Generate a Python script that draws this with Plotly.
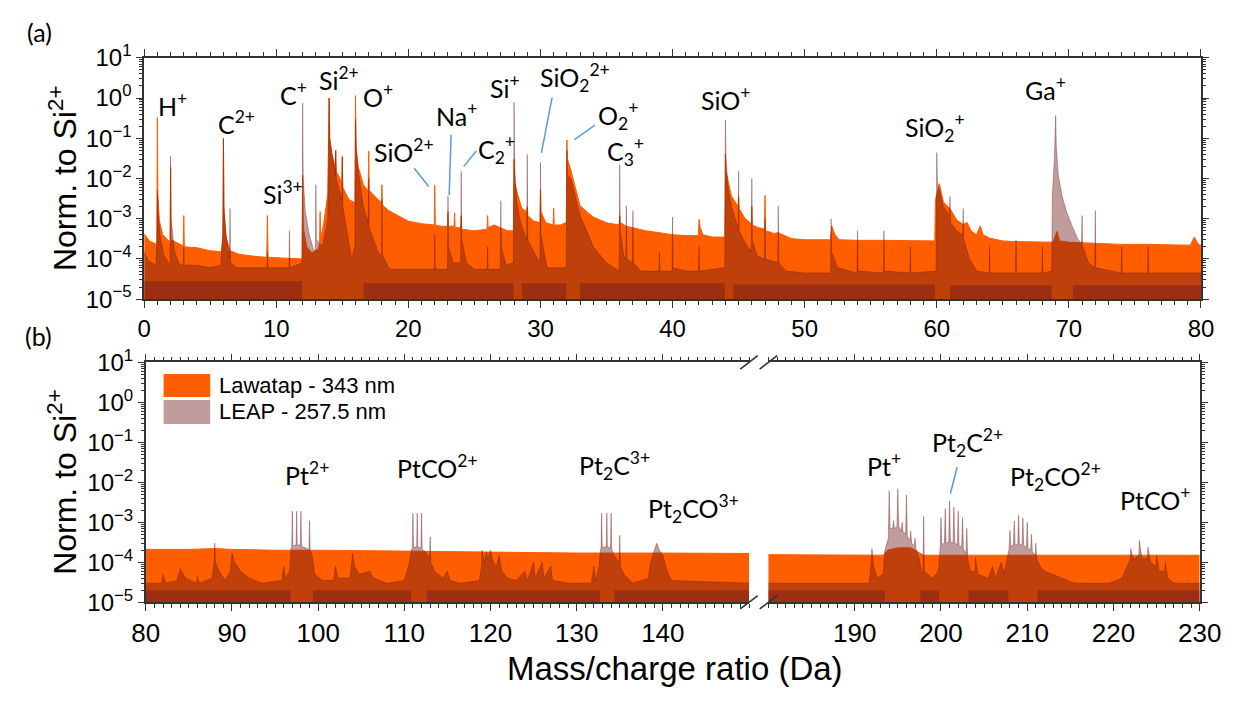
import plotly.graph_objects as go

W, H = 1256, 704

# ---------------- panel (a): 0-80 Da ----------------
mz_a_lawatap = [
    0.0, 0.4, 0.96, 1.0, 1.04, 1.15, 1.4, 1.96, 2.0, 2.04, 2.96, 3.0, 3.04, 4.0, 5.0, 5.85,
    5.96, 6.0, 6.04, 6.2, 6.5, 7.2, 8.5, 9.28, 9.33, 9.38, 10.5, 11.95, 12.0, 12.05, 12.3,
    12.7, 13.2, 13.28, 13.32, 13.36, 13.6, 13.9, 14.0, 14.05, 14.2, 14.45, 14.5, 14.55, 14.96,
    15.0, 15.04, 15.5, 15.95, 16.0, 16.05, 16.2, 16.6, 16.96, 17.0, 17.04, 17.5, 17.96, 18.0,
    18.04, 18.5, 19.0, 19.5, 20.0, 21.0, 21.96, 22.0, 22.04, 22.5, 22.96, 23.0, 23.04, 23.46,
    23.5, 23.54, 23.96, 24.0, 24.04, 25.0, 25.96, 26.0, 26.04, 26.5, 27.0, 27.5, 27.95, 28.0,
    28.05, 28.3, 28.6, 28.96, 29.0, 29.04, 29.5, 29.96, 30.0, 30.04, 30.4, 30.96, 31.0, 31.04,
    31.5, 31.95, 32.0, 32.05, 32.3, 32.6, 33.0, 33.5, 34.0, 35.0, 35.96, 36.0, 36.04, 36.5,
    37.0, 38.0, 39.0, 40.0, 41.0, 41.96, 42.0, 42.1, 42.3, 43.0, 43.95, 44.0, 44.05, 44.2,
    44.45, 44.96, 45.0, 45.04, 45.5, 45.96, 46.0, 46.04, 46.5, 46.96, 47.0, 47.04, 47.7, 48.0,
    49.0, 50.0, 51.0, 51.95, 52.05, 52.3, 52.6, 54.0, 56.0, 58.0, 59.8, 59.85, 59.9, 60.2,
    60.5, 61.0, 61.5, 62.0, 62.3, 62.6, 63.0, 63.3, 63.5, 64.0, 65.0, 66.0, 68.0, 68.8, 69.1,
    69.3, 70.0, 72.0, 74.0, 76.0, 78.0, 79.2, 79.5, 79.8, 80.0,
]
norm_a_lawatap = [
    4.2e-4, 2.8e-4, 2.3e-4, 0.33, 4e-3, 9e-4, 4e-4, 2.6e-4, 0.019, 3e-4, 2.1e-4, 1.2e-3, 2e-4, 1.9e-4, 1.6e-4, 1.5e-4,
    4e-4, 0.1, 1.5e-3, 3.5e-4, 1.6e-4, 1.3e-4, 1.15e-4, 1.1e-4, 1.2e-3, 1.1e-4, 1.05e-4, 1e-4, 0.012, 6e-4, 2e-4,
    1.4e-4, 1.8e-4, 2.5e-4, 1.5e-3, 3e-4, 8e-4, 4e-3, 1.0, 0.1, 0.04, 0.02, 0.05, 0.015, 8e-3,
    0.035, 6e-3, 3e-3, 2.5e-3, 1.15, 0.06, 0.02, 7e-3, 5e-3, 0.048, 5e-3, 3.5e-3, 2.5e-3, 7e-3,
    2.2e-3, 1.6e-3, 1.3e-3, 1.05e-3, 8.7e-4, 7.5e-4, 7e-4, 6.8e-3, 7e-4, 6.5e-4, 6.5e-4, 1.5e-3, 6.5e-4, 6.5e-4,
    1.4e-3, 6e-4, 6e-4, 1.2e-3, 5.5e-4, 5e-4, 5.5e-4, 1.2e-3, 6e-4, 7e-4, 6e-4, 5e-4, 5e-4, 0.03,
    8e-3, 3.7e-3, 1.8e-3, 1.5e-3, 2e-3, 1.2e-3, 8.7e-4, 8e-4, 5.3e-3, 1.5e-3, 8e-4, 7e-4, 1.8e-3, 7e-4,
    7e-4, 8e-4, 0.091, 0.03, 0.016, 6.5e-3, 2.1e-3, 1.5e-3, 1.1e-3, 7.9e-4, 7e-4, 1.2e-3, 8e-4, 6.5e-4,
    6e-4, 5e-4, 4.5e-4, 4e-4, 3.8e-4, 3.8e-4, 9.6e-4, 6e-4, 4e-4, 3.5e-4, 3.5e-4, 0.04, 0.015, 9e-3,
    3.7e-3, 2e-3, 3.5e-3, 1.8e-3, 1e-3, 7.5e-4, 2e-3, 7e-4, 6e-4, 5.5e-4, 3.8e-3, 5e-4, 4.3e-4, 4.5e-4,
    3.2e-4, 3e-4, 3e-4, 3e-4, 6.6e-4, 4e-4, 3e-4, 2.9e-4, 2.9e-4, 2.8e-4, 2.8e-4, 3e-4, 3e-3, 7.4e-3,
    2.6e-3, 1.8e-3, 9.4e-4, 7.2e-4, 8e-4, 5e-4, 4e-4, 6.6e-4, 4e-4, 3.3e-4, 2.8e-4, 2.7e-4, 2.7e-4, 2.6e-4, 4.8e-4,
    2.8e-4, 2.6e-4, 2.4e-4, 2.3e-4, 2.3e-4, 2.2e-4, 2.2e-4, 3.5e-4, 2.3e-4, 2.2e-4,
]

mz_a_leap = [
    0.0, 0.3, 0.9, 0.96, 1.0, 1.05, 1.2, 1.5, 1.96, 2.0, 2.04, 2.3, 2.7, 2.96, 3.0, 3.04, 4.0,
    5.0, 5.8, 5.95, 6.0, 6.05, 6.2, 6.46, 6.5, 6.54, 7.0, 8.0, 9.28, 9.33, 9.38, 10.96, 11.0,
    11.04, 11.95, 12.0, 12.04, 12.2, 12.5, 12.8, 12.96, 13.0, 13.04, 13.5, 13.9, 14.0, 14.05,
    14.3, 14.46, 14.5, 14.54, 14.96, 15.0, 15.04, 15.7, 15.95, 16.0, 16.05, 16.2, 16.6, 16.96,
    17.0, 17.04, 17.7, 17.96, 18.0, 18.04, 18.6, 20.0, 21.96, 22.0, 22.04, 22.96, 23.0, 23.04,
    23.4, 23.96, 24.0, 24.04, 24.4, 25.0, 25.96, 26.0, 26.04, 26.96, 27.0, 27.04, 27.4, 27.95,
    28.0, 28.05, 28.2, 28.5, 28.96, 29.0, 29.04, 29.5, 29.96, 30.0, 30.04, 30.5, 31.95, 32.0,
    32.05, 32.3, 32.6, 33.0, 33.5, 34.0, 35.0, 35.96, 36.0, 36.04, 36.3, 36.46, 36.5, 36.54,
    36.96, 37.0, 37.04, 37.6, 38.96, 39.0, 39.04, 39.96, 40.0, 40.04, 41.0, 41.96, 42.0, 42.04,
    43.95, 44.0, 44.05, 44.2, 44.45, 44.96, 45.0, 45.04, 45.5, 45.96, 46.0, 46.04, 46.4, 46.96,
    47.0, 47.04, 47.96, 48.0, 48.04, 48.6, 50.0, 51.96, 52.0, 52.04, 52.5, 53.96, 54.0, 54.04,
    55.96, 56.0, 56.04, 57.96, 58.0, 58.04, 59.95, 60.0, 60.05, 60.2, 60.5, 60.96, 61.0, 61.04,
    61.5, 61.96, 62.0, 62.04, 62.5, 63.0, 63.96, 64.0, 64.04, 65.96, 66.0, 66.04, 67.96, 68.0,
    68.04, 68.7, 68.75, 68.9, 69.0, 69.05, 69.2, 69.5, 69.85, 70.3, 70.7, 70.96, 71.0, 71.04,
    71.5, 71.96, 72.0, 72.04, 73.96, 74.0, 74.04, 75.96, 76.0, 76.04, 78.0, 80.0,
]
norm_a_leap = [
    1.5e-4, 9e-5, 7e-5, 3e-4, 5e-3, 1.5e-3, 4e-4, 1.2e-4, 7e-5, 0.036, 1e-3, 1.5e-4, 7e-5, 7e-5, 2e-4, 7e-5, 7e-5,
    6e-5, 7e-5, 4e-4, 0.1, 2e-3, 4e-4, 1e-4, 1.8e-3, 8e-5, 6e-5, 6e-5, 6e-5, 1.5e-4, 6e-5, 6e-5, 5e-4,
    6e-5, 8e-5, 0.75, 0.01, 1.5e-3, 4e-4, 1.8e-4, 1.5e-4, 7e-3, 3e-4, 2e-4, 1e-3, 1.0, 0.1,
    0.03, 0.012, 0.05, 0.01, 3e-3, 0.035, 2e-3, 1e-4, 2e-4, 0.3, 0.05, 0.016, 2e-3, 8e-4,
    0.01, 6e-4, 1.5e-4, 1.2e-4, 3e-3, 1.2e-4, 5.5e-5, 5.5e-5, 5.5e-5, 4e-4, 5.5e-5, 5.5e-5, 3.7e-3, 2e-4,
    8e-5, 8e-5, 0.015, 3e-4, 8e-5, 5.5e-5, 5.5e-5, 2e-4, 5.5e-5, 5.5e-5, 2.8e-3, 2e-4, 7e-5, 8e-5,
    0.78, 0.02, 2.5e-3, 8e-4, 3e-4, 0.04, 3e-4, 1.5e-4, 8e-5, 0.025, 4e-4, 6e-5, 6e-5, 0.05,
    0.012, 0.01, 4e-3, 1.2e-3, 5e-4, 2e-4, 8e-5, 5e-5, 0.022, 5e-4, 1.2e-4, 1e-4, 2.1e-3, 1e-4,
    8e-5, 1.6e-3, 8e-5, 5e-5, 5e-5, 1.5e-4, 5e-5, 5e-5, 1.1e-3, 6e-5, 5e-5, 5e-5, 2e-4, 5e-5,
    6e-5, 0.29, 0.03, 6e-3, 2e-3, 6e-4, 0.015, 5e-4, 2.5e-4, 1.5e-4, 0.01, 3e-4, 1.2e-4, 1e-4,
    1e-3, 1e-4, 8e-5, 2.1e-3, 8e-5, 5e-5, 4.5e-5, 4.5e-5, 1e-3, 1.5e-4, 6e-5, 4.5e-5, 5e-4, 5e-5,
    4.5e-5, 5e-4, 5e-5, 4.5e-5, 2e-4, 4.5e-5, 5e-5, 0.044, 8e-3, 5e-3, 2e-3, 1.2e-3, 3.6e-3, 8e-4,
    5e-4, 4e-4, 1.8e-3, 3e-4, 1e-4, 5e-5, 4.5e-5, 2e-4, 4.5e-5, 4.5e-5, 3e-4, 4.5e-5, 4.5e-5, 2e-4,
    4.5e-5, 5e-5, 4e-3, 0.03, 0.37, 0.06, 0.012, 3.5e-3, 1.4e-3, 6e-4, 3e-4, 2.5e-4, 1.2e-3, 2e-4,
    8e-5, 6e-5, 1.6e-3, 6e-5, 4.5e-5, 2e-4, 4.5e-5, 4.5e-5, 2e-4, 4.5e-5, 4.5e-5, 4.5e-5,
]

# single-count floor of the LEAP spectrum, absent where the LEAP signal is continuous
mz_a_leap_floor = [0.0, 11.95, 16.6, 27.95, 28.6, 31.95, 33.0, 43.95, 44.6, 59.85, 61.0, 68.7, 70.3, 80.0]
norm_a_leap_floor = [2.8e-5, 1e-7, 2.5e-5, 1e-7, 2.5e-5, 1e-7, 2.5e-5, 1e-7, 2.3e-5, 1e-7, 2.2e-5, 1e-7, 2.2e-5, 2.2e-5]

# ---------------- panel (b): 80-150 and 180-230 Da ----------------
mz_b_lawatap = [80.0, 85.0, 88.0, 90.0, 95.0, 100.0, 110.0, 120.0, 130.0, 140.0, 150.0,
                180.0, 190.0, 193.3, 193.8, 195.0, 196.5, 197.5, 198.0, 210.0, 220.0, 230.0]
norm_b_lawatap = [2.1e-4, 2.1e-4, 2.2e-4, 2.1e-4, 2e-4, 2e-4, 1.9e-4, 1.8e-4, 1.7e-4, 1.7e-4, 1.65e-4,
                  1.55e-4, 1.5e-4, 1.5e-4, 2e-4, 2.3e-4, 2.3e-4, 1.7e-4, 1.5e-4, 1.5e-4, 1.5e-4, 1.5e-4]

mz_b_leap = [
    80.0, 81.8, 82.0, 82.3, 83.6, 84.0, 84.6, 85.9, 86.0, 86.2, 87.7, 87.94, 88.0, 88.08, 88.5,
    89.2, 89.8, 90.0, 90.3, 91.0, 92.0, 93.5, 95.8, 96.0, 96.2, 96.7, 96.85, 96.93, 97.0, 97.07,
    97.43, 97.5, 97.57, 97.93, 98.0, 98.07, 98.5, 98.93, 99.0, 99.07, 99.3, 99.6, 100.5, 101.8,
    102.0, 102.3, 103.7, 104.0, 104.2, 104.8, 106.0, 106.4, 108.0, 110.0, 110.6, 110.8, 110.93,
    111.0, 111.07, 111.43, 111.5, 111.57, 111.93, 112.0, 112.07, 112.5, 112.93, 113.0, 113.07,
    113.5, 114.5, 115.0, 115.3, 116.5, 118.7, 118.97, 119.0, 119.3, 119.5, 119.7, 120.0, 120.3,
    120.7, 121.0, 121.3, 122.0, 123.0, 124.0, 124.3, 125.0, 125.2, 126.0, 126.2, 127.0, 127.2,
    129.0, 131.7, 132.0, 132.2, 132.6, 132.75, 132.83, 132.9, 132.97, 133.43, 133.5, 133.57,
    133.93, 134.0, 134.07, 134.5, 134.93, 135.0, 135.07, 135.5, 136.5, 138.3, 138.6, 139.0,
    139.3, 139.6, 140.0, 140.5, 141.0, 150.0,
    180.0, 183.0, 188.0, 191.7, 191.9, 192.0, 192.2, 192.6, 193.3, 193.5, 193.9, 194.0, 194.1,
    194.4, 194.5, 194.6, 194.9, 195.0, 195.1, 195.4, 195.5, 195.6, 195.9, 196.0, 196.1,
    196.4, 196.5, 196.6, 196.9, 197.0, 197.1, 197.5, 197.8, 197.92, 198.0, 198.08, 198.5,
    199.0, 199.7, 199.85, 199.92, 200.0, 200.1, 200.4, 200.5, 200.6, 200.9, 201.0, 201.1,
    201.4, 201.5, 201.6, 201.9, 202.0, 202.1, 202.4, 202.5, 202.6, 202.9, 203.0, 203.1,
    203.4, 203.94, 204.0, 204.3, 205.5, 206.0, 206.3, 207.0, 207.3, 207.7, 207.9, 208.0, 208.1,
    208.4, 208.5, 208.6, 208.9, 209.0, 209.1, 209.4, 209.5, 209.6, 209.9, 210.0, 210.1,
    210.4, 210.5, 210.6, 210.9, 211.0, 211.1, 211.5, 212.0, 213.0, 214.0, 215.5, 219.5,
    221.0, 221.6, 221.94, 222.0, 222.3, 222.94, 223.0, 223.3, 223.94, 224.0, 224.3, 224.94,
    225.0, 225.3, 225.94, 226.0, 226.3, 227.0, 230.0,
]
norm_b_leap = [
    3e-5, 3e-5, 5e-5, 3e-5, 3.5e-5, 7e-5, 4e-5, 3e-5, 4.5e-5, 3e-5, 4e-5, 1e-4, 3e-4, 1e-4, 6e-5,
    3.5e-5, 6e-5, 1.7e-4, 1e-4, 6e-5, 4e-5, 3e-5, 3.5e-5, 8e-5, 4e-5, 6e-5, 2.2e-4, 2.5e-4, 1.9e-3, 2.6e-4,
    2.7e-4, 1.9e-3, 2.7e-4, 2.7e-4, 1.9e-3, 2.5e-4, 2.3e-4, 2.1e-4, 1.1e-3, 2e-4, 1.5e-4, 5e-5, 3.5e-5, 3.5e-5,
    8e-5, 4e-5, 4e-5, 1.7e-4, 8e-5, 5e-5, 6e-5, 4e-5, 3e-5, 3.5e-5, 1e-4, 2e-4, 2.3e-4,
    1.7e-3, 2.4e-4, 2.4e-4, 1.7e-3, 2.4e-4, 2.3e-4, 1.7e-3, 2.1e-4, 1.8e-4, 1.2e-4, 4.3e-4, 1e-4,
    6e-5, 4e-5, 6e-5, 3.5e-5, 3e-5, 3.5e-5, 8e-5, 2e-4, 1e-4, 1.8e-4, 1.2e-4, 2e-4, 1e-4,
    8e-5, 1.5e-4, 6e-5, 4e-5, 3.5e-5, 6e-5, 3.5e-5, 1e-4, 4e-5, 1e-4, 4e-5, 8e-5, 3.5e-5,
    3e-5, 3e-5, 8e-5, 3.5e-5, 8e-5, 2e-4, 2.3e-4, 1.7e-3, 2.4e-4, 2.4e-4, 1.7e-3, 2.4e-4,
    2.3e-4, 1.7e-3, 2.1e-4, 1.3e-4, 1e-4, 4.7e-4, 8e-5, 5e-5, 3e-5, 4e-5, 1e-4, 2e-4,
    3e-4, 2e-4, 1.5e-4, 6e-5, 3.5e-5, 3e-5,
    3e-5, 3e-5, 3e-5, 3e-5, 1e-4, 2.2e-4, 8e-5, 4e-5, 5e-5, 2e-4, 4e-4, 6.2e-3, 7e-4,
    7e-4, 1.1e-3, 7e-4, 8e-4, 6.9e-3, 8e-4, 6e-4, 1e-3, 6e-4, 5e-4, 4.8e-3, 4.5e-4,
    3.5e-4, 6e-4, 3e-4, 2.6e-4, 4e-4, 2.2e-4, 1.2e-4, 5e-5, 6e-5, 1.4e-3, 6e-5, 5e-5,
    4e-5, 6e-5, 2e-4, 2.6e-4, 1.3e-3, 2.8e-4, 3e-4, 2.2e-3, 3e-4, 3.2e-4, 3.4e-3, 3.2e-4,
    3e-4, 2.4e-3, 3e-4, 2.8e-4, 1.9e-3, 2.6e-4, 2.4e-4, 1.3e-3, 2.2e-4, 1.6e-4, 7e-4, 1.2e-4,
    6e-5, 6e-5, 1.3e-4, 5e-5, 4e-5, 8e-5, 4e-5, 1e-4, 5e-5, 1.5e-4, 2.2e-4, 6.2e-4, 2.5e-4,
    2.7e-4, 1.07e-3, 2.8e-4, 2.8e-4, 1.5e-3, 2.8e-4, 2.7e-4, 1.3e-3, 2.6e-4, 2.4e-4, 1e-3, 2.3e-4,
    2e-4, 5e-4, 1.8e-4, 1.5e-4, 3e-4, 1.2e-4, 8e-5, 6e-5, 5e-5, 4e-5, 3e-5, 3e-5,
    4e-5, 8e-5, 1.2e-4, 2.2e-4, 1.2e-4, 1.5e-4, 3.5e-4, 1.3e-4, 1.2e-4, 2.4e-4, 1e-4, 8e-5,
    1.5e-4, 6e-5, 6e-5, 1e-4, 4e-5, 3e-5, 3e-5,
]

mz_b_leap_floor = [80.0, 96.8, 99.4, 110.8, 112.6, 132.7, 134.4, 150.0,
                   180.0, 193.5, 197.6, 199.8, 203.2, 207.8, 211.2, 230.0]
norm_b_leap_floor = [2e-5, 1e-7, 2e-5, 1e-7, 2e-5, 1e-7, 2e-5, 2e-5,
                     2e-5, 1e-7, 2e-5, 1e-7, 2e-5, 1e-7, 2e-5, 2e-5]

# ---------------- ticks and labels ----------------
y_tickvals = [1e-5, 1e-4, 1e-3, 1e-2, 1e-1, 1e0, 1e1]
y_ticktext = ["10<sup>−5</sup>", "10<sup>−4</sup>", "10<sup>−3</sup>", "10<sup>−2</sup>",
              "10<sup>−1</sup>", "10<sup>0</sup>", "10<sup>1</sup>"]
x_ticks_a = [0, 10, 20, 30, 40, 50, 60, 70, 80]
x_ticks_b_low = [80, 90, 100, 110, 120, 130, 140]
x_ticks_b_high = [190, 200, 210, 220, 230]

series_names = ["Lawatap - 343 nm", "LEAP - 257.5 nm"]

ion_labels_a = ["H<sup>+</sup>", "C<sup>2+</sup>", "Si<sup>3+</sup>", "C<sup>+</sup>", "Si<sup>2+</sup>",
                "O<sup>+</sup>", "SiO<sup>2+</sup>", "Na<sup>+</sup>", "C<sub>2</sub><sup>+</sup>",
                "Si<sup>+</sup>", "SiO<sub>2</sub><sup>2+</sup>", "O<sub>2</sub><sup>+</sup>",
                "C<sub>3</sub><sup>+</sup>", "SiO<sup>+</sup>", "SiO<sub>2</sub><sup>+</sup>", "Ga<sup>+</sup>"]
ion_labels_b = ["Pt<sup>2+</sup>", "PtCO<sup>2+</sup>", "Pt<sub>2</sub>C<sup>3+</sup>",
                "Pt<sub>2</sub>CO<sup>3+</sup>", "Pt<sup>+</sup>", "Pt<sub>2</sub>C<sup>2+</sup>",
                "Pt<sub>2</sub>CO<sup>2+</sup>", "PtCO<sup>+</sup>"]

# ---------------- styling ----------------
ORANGE = "rgb(255,94,0)"
LEAP_FILL = "rgba(108,25,25,0.43)"
LEAP_LINE = "rgba(108,25,25,0.45)"
AXIS = "#333333"
TICK_FONT = "Liberation Sans, Arial, sans-serif"
LABEL_FONT = "Lato, Open Sans, sans-serif"
LEADER = "#5B9BD5"


def px(x):
    return x / W


def py(y):
    return 1 - y / H


fig = go.Figure()


def add_spectrum(x, y, color, line_color, width, xa, ya, shape="linear"):
    fig.add_trace(go.Scatter(
        x=x, y=y, mode="lines", fill="tozeroy", fillcolor=color,
        line=dict(color=line_color, width=width, shape=shape),
        xaxis=xa, yaxis=ya, showlegend=False, hoverinfo="skip"))


# panel (a)
add_spectrum(mz_a_lawatap, norm_a_lawatap, ORANGE, ORANGE, 1, "x", "y")
add_spectrum(mz_a_leap, norm_a_leap, LEAP_FILL, LEAP_LINE, 0.8, "x", "y")
add_spectrum(mz_a_leap_floor, norm_a_leap_floor, LEAP_FILL, "rgba(0,0,0,0)", 0, "x", "y", "hv")
# panel (b), both segments of the broken axis
for xa, ya in (("x2", "y2"), ("x3", "y3")):
    add_spectrum(mz_b_lawatap, norm_b_lawatap, ORANGE, ORANGE, 1, xa, ya)
    add_spectrum(mz_b_leap, norm_b_leap, LEAP_FILL, LEAP_LINE, 0.8, xa, ya)
    add_spectrum(mz_b_leap_floor, norm_b_leap_floor, LEAP_FILL, "rgba(0,0,0,0)", 0, xa, ya, "hv")

a_xdom = [px(134), px(1222)]
a_ydom = [py(294.7), py(42.7)]
b_ydom = [py(611.3), py(360.7)]
b_lo_dom = [px(135.7), px(756.7)]
b_hi_dom = [px(776.7), px(1220.7)]

common_x = dict(showline=True, linecolor=AXIS, linewidth=1.6, ticks="outside", ticklen=7,
                tickwidth=1.4, tickcolor=AXIS, showgrid=False, zeroline=False,
                minor=dict(dtick=1, ticks="outside", ticklen=4, tickwidth=1, tickcolor=AXIS, showgrid=False),
                tickmode="array")
common_y = dict(type="log", range=[-5, 1], showline=True, linecolor=AXIS, linewidth=1.6,
                ticks="outside", ticklen=6, tickwidth=1.4, tickcolor=AXIS, showgrid=False,
                zeroline=False, tickmode="array", tickvals=y_tickvals, ticktext=y_ticktext,
                tickfont=dict(family=TICK_FONT, size=24, color="black"),
                minor=dict(dtick="D1", ticks="outside", ticklen=3, tickwidth=1, tickcolor=AXIS, showgrid=False))

fig.update_layout(
    width=W, height=H, margin=dict(l=0, r=0, t=0, b=0),
    paper_bgcolor="white", plot_bgcolor="white", showlegend=False,
    xaxis=dict(domain=a_xdom, anchor="y", range=[0, 80], tickvals=x_ticks_a, mirror="ticks",
               tickfont=dict(family=TICK_FONT, size=24, color="black"), **common_x),
    yaxis=dict(domain=a_ydom, anchor="x", mirror="ticks", **common_y),
    xaxis2=dict(domain=b_lo_dom, anchor="y2", range=[80, 150], tickvals=x_ticks_b_low, mirror="ticks",
                tickfont=dict(family=TICK_FONT, size=26, color="black"), **common_x),
    yaxis2=dict(domain=b_ydom, anchor="x2", mirror=False, **common_y),
    xaxis3=dict(domain=b_hi_dom, anchor="y3", range=[180, 230], tickvals=x_ticks_b_high, mirror="ticks",
                tickfont=dict(family=TICK_FONT, size=26, color="black"), **common_x),
    yaxis3=dict(domain=b_ydom, anchor="x3", side="right", mirror=False, showticklabels=False, **common_y),
)

annotations = []
shapes = []

# axis titles and panel letters
annotations.append(dict(text="Norm. to Si<sup>2+</sup>", x=px(50), y=py(168.7), textangle=-90,
                        font=dict(family=TICK_FONT, size=32, color="black")))
annotations.append(dict(text="Norm. to Si<sup>2+</sup>", x=px(50), y=py(486), textangle=-90,
                        font=dict(family=TICK_FONT, size=32, color="black")))
annotations.append(dict(text="Mass/charge ratio (Da)", x=px(681), y=py(681),
                        font=dict(family=TICK_FONT, size=33, color="black")))
annotations.append(dict(text="(a)", x=px(26), y=py(16), font=dict(family=LABEL_FONT, size=25, color="black")))
annotations.append(dict(text="(b)", x=px(25), y=py(333), font=dict(family=LABEL_FONT, size=25, color="black")))

# ion labels
pos_a = [(163, 91), (229, 110), (277, 183), (288, 80), (335, 64), (375, 82), (402, 139), (456, 102),
         (497, 138), (505, 73), (578, 63), (622, 103), (630, 140), (733, 85), (948, 115), (1062, 75)]
pos_b = [(302, 477), (436, 470), (618, 468), (700, 513), (896, 467), (982, 444), (1072, 480), (1175, 503)]
for txt, (x, y) in list(zip(ion_labels_a, pos_a)) + list(zip(ion_labels_b, pos_b)):
    annotations.append(dict(text=txt, x=px(x), y=py(y), font=dict(family=LABEL_FONT, size=25, color="black")))

# leader lines from labels to their peaks
leaders = [((412, 158), (427, 177)), ((450, 123), (448, 186)), ((476, 140), (463, 156)),
           ((554, 84), (543, 142)), ((598, 113), (577, 128)), ((971, 470), (964, 498))]
for (x0, y0), (x1, y1) in leaders:
    shapes.append(dict(type="line", xref="paper", yref="paper", x0=px(x0), y0=py(y0), x1=px(x1), y1=py(y1),
                       line=dict(color=LEADER, width=1.5)))

# axis-break marks
for cx in (756.7, 776.7):
    for cy in (360.7, 611.3):
        shapes.append(dict(type="line", xref="paper", yref="paper", x0=px(cx - 9), y0=py(cy + 7),
                           x1=px(cx + 9), y1=py(cy - 7), line=dict(color=AXIS, width=1.6)))

# legend
legend_rows = [(ORANGE, 373, 397, 385), (LEAP_FILL, 400, 425, 412.5)]
for name, (col, y0, y1, yc) in zip(series_names, legend_rows):
    shapes.append(dict(type="rect", xref="paper", yref="paper", x0=px(154), x1=px(202), y0=py(y1), y1=py(y0),
                       fillcolor=col, line=dict(width=0)))
    annotations.append(dict(text=name, x=px(209), y=py(yc), xanchor="left",
                            font=dict(family=TICK_FONT, size=22, color="black")))

for a in annotations:
    a.setdefault("xref", "paper")
    a.setdefault("yref", "paper")
    a.setdefault("showarrow", False)
    a.setdefault("xanchor", "center")
    a.setdefault("yanchor", "middle")

fig.update_layout(annotations=annotations, shapes=shapes)
fig.write_html("out.html")
